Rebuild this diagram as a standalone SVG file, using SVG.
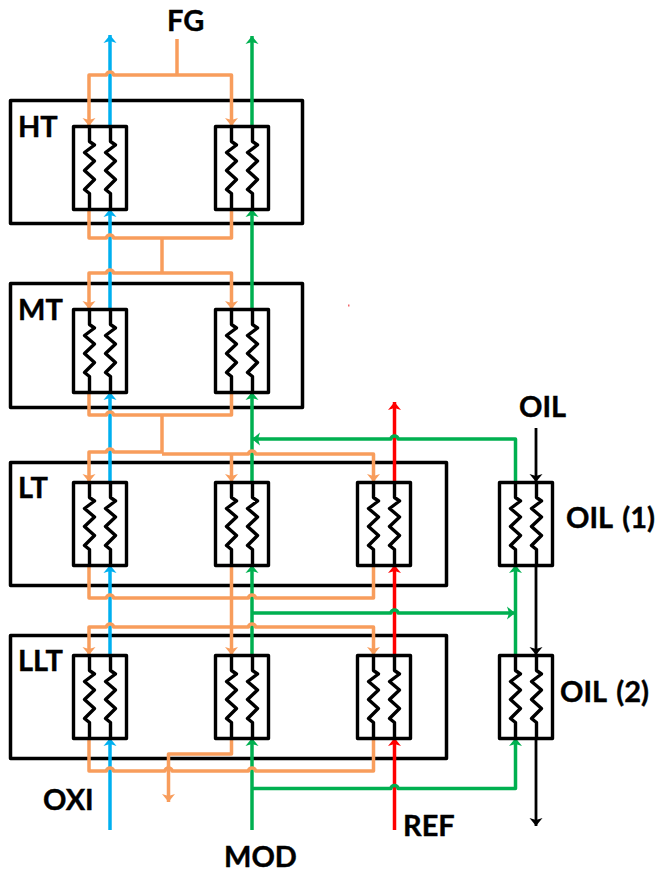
<svg xmlns="http://www.w3.org/2000/svg" width="655" height="873" viewBox="0 0 655 873">
<style>
.zone{fill:none;stroke:#000;stroke-width:3.500;stroke-linejoin:round}
.box{fill:none;stroke:#000;stroke-width:3.400;stroke-linejoin:round}
.coil{fill:none;stroke:#000;stroke-width:3.400;stroke-linejoin:round}
.c{fill:none;stroke-width:3.500;stroke-linejoin:round}
.o{stroke:#F89D5C}.b{stroke:#00B0F0}.g{stroke:#00B050}.r{stroke:#FF0000}.k{stroke:#000;stroke-width:2.800}
.x-o{marker-end:url(#ao)}.x-b{marker-end:url(#ab)}.x-g{marker-end:url(#ag)}.x-r{marker-end:url(#ar)}.x-k{marker-end:url(#ak)}
text{font-family:Lato,"Open Sans","Liberation Sans",sans-serif;font-weight:700;font-size:29px;fill:#000;stroke:#000;stroke-width:0.400;word-spacing:3px}
</style>
<defs>
<marker id="ao" markerUnits="userSpaceOnUse" markerWidth="14" markerHeight="14" refX="8" refY="7" orient="auto"><path d="M0,0.500L8,7L0,13.500L2,7Z" fill="#F89D5C"/></marker>
<marker id="ab" markerUnits="userSpaceOnUse" markerWidth="14" markerHeight="14" refX="8" refY="7" orient="auto"><path d="M0,0.500L8,7L0,13.500L2,7Z" fill="#00B0F0"/></marker>
<marker id="ag" markerUnits="userSpaceOnUse" markerWidth="14" markerHeight="14" refX="8" refY="7" orient="auto"><path d="M0,0.500L8,7L0,13.500L2,7Z" fill="#00B050"/></marker>
<marker id="ar" markerUnits="userSpaceOnUse" markerWidth="14" markerHeight="14" refX="8" refY="7" orient="auto"><path d="M0,0.500L8,7L0,13.500L2,7Z" fill="#FF0000"/></marker>
<marker id="ak" markerUnits="userSpaceOnUse" markerWidth="14" markerHeight="14" refX="8" refY="7" orient="auto"><path d="M0,0.500L8,7L0,13.500L2,7Z" fill="#000"/></marker>
<g id="hx">
<rect class="box" x="0" y="0" width="53" height="83"/>
<path class="coil" d="M16,0V15L21,18.500L11,26L21,34.500L11,44L21,53L11,63L16,67V83"/>
<path class="coil" d="M37,0V15L42,18.500L32,26L42,34.500L32,44L42,53L32,63L37,67V83"/>
</g>
</defs>

<g id="zones">
<g id="zone-HT"><rect class="zone" x="10.500" y="100.500" width="292" height="123"/><text x="18" y="137">HT</text></g>
<g id="zone-MT"><rect class="zone" x="10.500" y="283.500" width="292" height="124"/><text x="18" y="320">MT</text></g>
<g id="zone-LT"><rect class="zone" x="10.500" y="462.500" width="436" height="123"/><text x="18" y="498">LT</text></g>
<g id="zone-LLT"><rect class="zone" x="10.500" y="635.500" width="436" height="123"/><text x="18" y="671">LLT</text></g>
</g>

<g id="connectors">
<g id="oxi-stream">
<path class="c b x-b" d="M110,830V738"/>
<path class="c b x-b" d="M110,657V565"/>
<path class="c b x-b" d="M110,482V392"/>
<path class="c b x-b" d="M110,309V209"/>
<path class="c b x-b" d="M110,126V35"/>
</g>
<g id="mod-stream">
<path class="c g x-g" d="M252,830V738"/>
<path class="c g x-g" d="M252,655V565"/>
<path class="c g x-g" d="M252,482V392"/>
<path class="c g x-g" d="M252,309V209"/>
<path class="c g x-g" d="M252,126V36"/>
</g>
<g id="ref-stream">
<path class="c r x-r" d="M394.500,830V738"/>
<path class="c r x-r" d="M394.500,655V565"/>
<path class="c r x-r" d="M394.500,482V402"/>
</g>
<g id="oil-stream">
<path class="c k x-k" d="M536,428V482"/>
<path class="c k x-k" d="M536,565V655"/>
<path class="c k x-k" d="M536,738V826"/>
</g>
<g id="mod-branches">
<path class="c g x-g" d="M515.500,655V565"/>
<path class="c g x-g" d="M252,788.500H391a3.500,3 0 0 1 7,0H515.500V738"/>
<path class="c g x-g" d="M252,613H391a3.500,3 0 0 1 7,0H515"/>
<path class="c g x-g" d="M515.500,482V439H398a3.500,3 0 0 0 -7,0H252"/>
</g>
<g id="fg-lines">
<path class="c o" d="M177,39V75"/>
<path class="c o x-o" d="M177,75H113.500a3.500,3 0 0 0 -7,0H89V126"/>
<path class="c o x-o" d="M177,75H231.500V126"/>
<path class="c o" d="M89,209V238H106.500a3.500,3 0 0 1 7,0H231.500V209"/>
<path class="c o" d="M162,238V273"/>
<path class="c o x-o" d="M162,273H113.500a3.500,3 0 0 0 -7,0H89V309"/>
<path class="c o x-o" d="M162,273H231.500V309"/>
<path class="c o" d="M89,392V415H106.500a3.500,3 0 0 1 7,0H231.500V392"/>
<path class="c o" d="M162,415V453"/>
<path class="c o x-o" d="M162,452H113.500a3.500,3 0 0 0 -7,0H89V482"/>
<path class="c o x-o" d="M162,454H248.500a3.500,3 0 0 1 7,0H373.500V482"/>
<path class="c o x-o" d="M231.500,454V482"/>
<path class="c o" d="M89,565V598H106.500a3.500,3 0 0 1 7,0H248.500a3.500,3 0 0 1 7,0H373.500V565"/>
<path class="c o x-o" d="M231.500,565V655"/>
<path class="c o x-o" d="M231.500,627H113.500a3.500,3 0 0 0 -7,0H89V655"/>
<path class="c o x-o" d="M231.500,627H248.500a3.500,3 0 0 1 7,0H373.500V655"/>
<path class="c o" d="M89,738V771H106.500a3.500,3 0 0 1 7,0H165a3.500,3 0 0 1 7,0H248.500a3.500,3 0 0 1 7,0H373.500V738"/>
<path class="c o x-o" d="M231.500,738V754H168.500V802"/>
</g>
</g>

<g id="hx-HT-OXI"><use href="#hx" x="73.500" y="126.500"/></g>
<g id="hx-HT-MOD"><use href="#hx" x="215.500" y="126.500"/></g>
<g id="hx-MT-OXI"><use href="#hx" x="73.500" y="309.500"/></g>
<g id="hx-MT-MOD"><use href="#hx" x="215.500" y="309.500"/></g>
<g id="hx-LT-OXI"><use href="#hx" x="73.500" y="482.500"/></g>
<g id="hx-LT-MOD"><use href="#hx" x="215.500" y="482.500"/></g>
<g id="hx-LT-REF"><use href="#hx" x="357.500" y="482.500"/></g>
<g id="hx-LLT-OXI"><use href="#hx" x="73.500" y="655.500"/></g>
<g id="hx-LLT-MOD"><use href="#hx" x="215.500" y="655.500"/></g>
<g id="hx-LLT-REF"><use href="#hx" x="357.500" y="655.500"/></g>
<g id="hx-OIL-1"><use href="#hx" x="499.500" y="482.500"/><text x="566" y="528">OIL (1)</text></g>
<g id="hx-OIL-2"><use href="#hx" x="499.500" y="655.500"/><text x="560" y="702">OIL (2)</text></g>

<g id="labels">
<text x="167" y="31">FG</text>
<text x="519" y="417">OIL</text>
<text x="43" y="810">OXI</text>
<text x="224" y="867">MOD</text>
<text x="403" y="836">REF</text>
</g>
<rect x="348" y="304.500" width="1.500" height="2" fill="#F2686C"/>
</svg>
